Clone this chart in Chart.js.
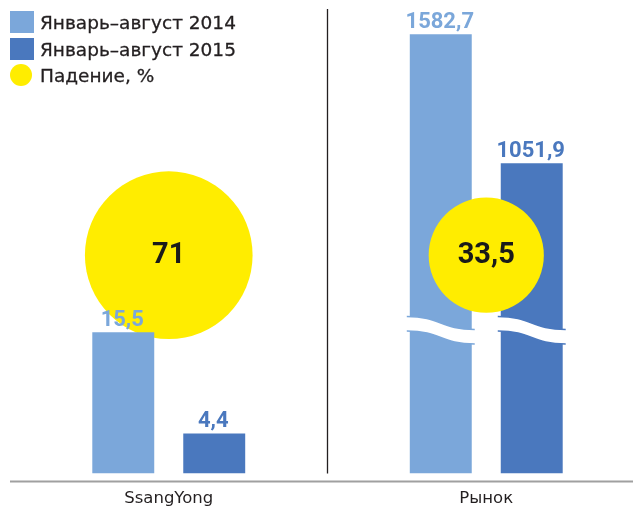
<!DOCTYPE html>
<html lang="ru">
<head>
<meta charset="utf-8">
<title>SsangYong и рынок</title>
<script src="https://cdn.jsdelivr.net/npm/chart.js@4.4.1/dist/chart.umd.min.js"></script>
<style>
  html, body { margin: 0; padding: 0; background: #fff; }
  #wrap { position: relative; width: 633px; height: 512px; overflow: hidden; }
  #chart-container { position: absolute; left: 0; top: 0; }
  .ley { position: absolute; left: 40px; font-family: 'DejaVu Sans', sans-serif; font-size: 18.5px; line-height: 26px; color: #231f20; white-space: nowrap; -webkit-text-stroke: 0.3px #231f20; }
  .marca { position: absolute; left: 10px; }
</style>
</head>
<body>
<div id="wrap">
  <canvas id="chart-container" width="650" height="512"></canvas>
</div>
<script>
// Datos del gráfico (miles de coches, enero-agosto)
const categories = ['SsangYong', 'Рынок'];
const sales2014 = [15.5, 1582.7];
const sales2015 = [4.4, 1051.9];
const declinePct = [71, 33.5];
const legendLabels = ['Январь–август 2014', 'Январь–август 2015', 'Падение, %'];

// Colores
const azulClaro = '#7ba7da';
const azulOscuro = '#4a78be';
const amarillo = '#ffed00';

// Escalas: SsangYong con su propia escala, el mercado con eje "cortado"
const ssangMax = 51;
const marketMin = -224.5; // base de las barras del mercado (eje cortado)
const marketMax = 1686.8;
const nivelCirculos = 0.47; // altura relativa de los círculos

function fmt(v) {
  return String(v).replace('.', ',');
}

// Leyenda en HTML
function crearLeyenda() {
  const wrap = document.getElementById('wrap');
  const colores = [azulClaro, azulOscuro, amarillo];
  legendLabels.forEach((txt, i) => {
    const top = 10 + i * 26.5;
    const m = document.createElement('div');
    m.className = 'marca';
    m.style.top = (top + 1) + 'px';
    m.style.width = i < 2 ? '24px' : '22px';
    m.style.height = '22px';
    if (i === 2) m.style.borderRadius = '50%';
    m.style.background = colores[i];
    wrap.appendChild(m);
    const t = document.createElement('div');
    t.className = 'ley';
    t.style.top = top + 'px';
    t.textContent = txt;
    wrap.appendChild(t);
  });
}

// Líneas: separador vertical y eje inferior gris
const lineas = {
  id: 'lineas',
  beforeDatasetsDraw(chart) {
    const ctx = chart.ctx;
    const area = chart.chartArea;
    const x = chart.scales.x;
    const sep = (x.getPixelForValue(0) + x.getPixelForValue(1)) / 2;
    ctx.save();
    ctx.strokeStyle = '#231f20';
    ctx.lineWidth = 1.3;
    ctx.beginPath();
    ctx.moveTo(sep, area.top);
    ctx.lineTo(sep, area.bottom);
    ctx.stroke();
    ctx.fillStyle = '#a0a0a0';
    ctx.fillRect(area.left, area.bottom + 7, chart.width - area.left, 2);
    ctx.restore();
  }
};

// Corte ondulado sobre las barras del mercado
const corte = {
  id: 'corte',
  afterDatasetsDraw(chart) {
    const ctx = chart.ctx;
    chart.data.datasets.forEach((ds, i) => {
      if (ds.yAxisID !== 'yM') return;
      const meta = chart.getDatasetMeta(i);
      meta.data.forEach((bar, j) => {
        if (ds.data[j] == null) return;
        const L = bar.x - bar.width / 2 - 3;
        const R = bar.x + bar.width / 2 + 3;
        const mid = (L + R) / 2;
        const yT = bar.base - 157;
        const caida = 13;
        const grosor = 14.5;
        ctx.save();
        ctx.fillStyle = '#fff';
        ctx.beginPath();
        ctx.moveTo(L, yT);
        ctx.bezierCurveTo(mid, yT, mid, yT + caida, R, yT + caida);
        ctx.lineTo(R, yT + caida + grosor);
        ctx.bezierCurveTo(mid, yT + caida + grosor, mid, yT + grosor, L, yT + grosor);
        ctx.closePath();
        ctx.fill();
        ctx.strokeStyle = ds.backgroundColor;
        ctx.lineWidth = 1.5;
        ctx.beginPath();
        ctx.moveTo(L, yT);
        ctx.bezierCurveTo(mid, yT, mid, yT + caida, R, yT + caida);
        ctx.stroke();
        ctx.beginPath();
        ctx.moveTo(L, yT + grosor);
        ctx.bezierCurveTo(mid, yT + grosor, mid, yT + caida + grosor, R, yT + caida + grosor);
        ctx.stroke();
        ctx.restore();
      });
    });
  }
};

// Etiquetas con los valores
const etiquetas = {
  id: 'etiquetas',
  afterDatasetsDraw(chart) {
    const ctx = chart.ctx;
    ctx.save();
    ctx.textAlign = 'center';
    chart.data.datasets.forEach((ds, i) => {
      const meta = chart.getDatasetMeta(i);
      meta.data.forEach((el, j) => {
        const v = ds.data[j];
        if (v == null) return;
        if (ds.type === 'bubble') {
          ctx.fillStyle = '#1a1a1a';
          ctx.font = 'bold 29px Roboto';
          ctx.textBaseline = 'middle';
          ctx.fillText(fmt(declinePct[j]), el.x, el.y + 1);
        } else {
          ctx.fillStyle = ds.backgroundColor;
          ctx.font = 'bold 22px Roboto';
          ctx.textBaseline = 'alphabetic';
          ctx.fillText(fmt(v), el.x - 1, el.y - 6.5);
        }
      });
    });
    ctx.restore();
  }
};

function crearGrafico() {
  const barra = (label, data, color, eje, orden) => ({
    type: 'bar',
    label: label,
    data: data,
    backgroundColor: color,
    yAxisID: eje,
    order: orden,
    skipNull: true,
    categoryPercentage: 0.573,
    barPercentage: 0.681,
    base: eje === 'yM' ? marketMin : 0
  });

  const datasets = [
    barra(legendLabels[0], [sales2014[0], null], azulClaro, 'yS', 1),
    barra(legendLabels[1], [sales2015[0], null], azulOscuro, 'yS', 1),
    barra(legendLabels[0], [null, sales2014[1]], azulClaro, 'yM', 3),
    barra(legendLabels[1], [null, sales2015[1]], azulOscuro, 'yM', 3),
    {
      type: 'bubble',
      label: legendLabels[2],
      // radio proporcional a la raíz del valor (área proporcional)
      data: declinePct.map((v, i) => ({ x: i, y: nivelCirculos, r: Math.sqrt(v) * 9.95 })),
      backgroundColor: amarillo,
      borderWidth: 0,
      hoverRadius: 0,
      yAxisID: 'yC',
      order: 2
    }
  ];

  const ctx = document.getElementById('chart-container').getContext('2d');
  window.myChart = new Chart(ctx, {
    data: { labels: categories, datasets: datasets },
    options: {
      responsive: false,
      animation: false,
      events: [],
      layout: { autoPadding: false, padding: { left: 10, right: 5, top: 9, bottom: 0 } },
      plugins: { legend: { display: false }, tooltip: { enabled: false } },
      scales: {
        x: {
          type: 'category',
          offset: true,
          grid: { display: false },
          border: { display: false },
          ticks: { color: '#231f20', font: { family: 'DejaVu Sans', size: 16.5 }, padding: 7 },
          afterFit: (s) => { s.height = 38.5; }
        },
        yS: { display: false, min: 0, max: ssangMax },
        yM: { display: false, min: marketMin, max: marketMax },
        yC: { display: false, min: 0, max: 1 }
      }
    },
    plugins: [lineas, corte, etiquetas]
  });
}

document.addEventListener('DOMContentLoaded', function() {
  crearLeyenda();
  crearGrafico();
});
</script>
</body>
</html>
